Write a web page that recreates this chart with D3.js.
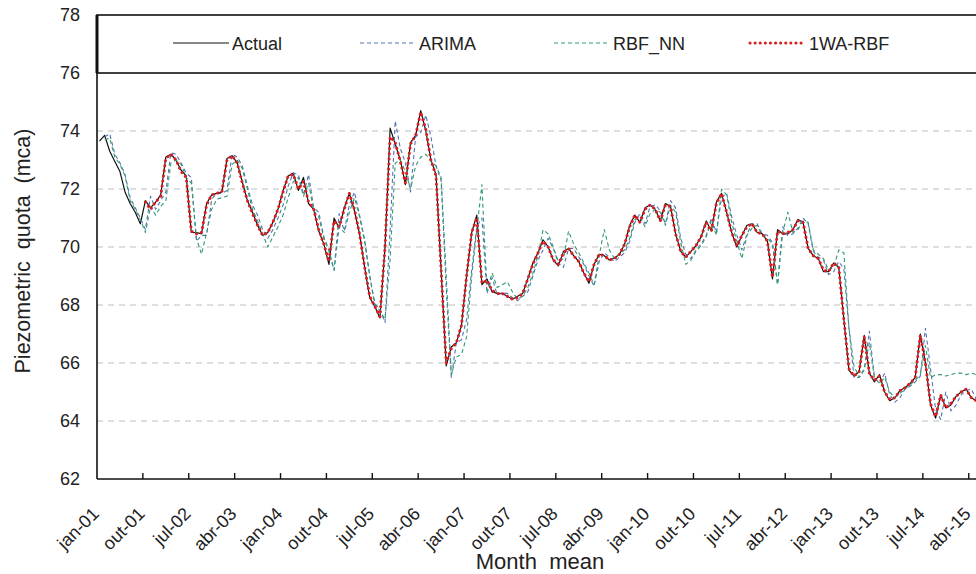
<!DOCTYPE html>
<html>
<head>
<meta charset="utf-8">
<script src="https://cdn.jsdelivr.net/npm/d3@7"></script>
<style>
  html, body { margin: 0; padding: 0; background: #fff; }
  svg { display: block; font-family: "Liberation Sans", Arial, sans-serif; }
</style>
</head>
<body>
<svg id="chart" width="976" height="574"></svg>
<script>
'use strict';

// Monthly mean piezometric quota (mca), jan-01 onwards
const actual = [
  73.65, 73.85, 73.3, 72.95, 72.6, 71.9, 71.5, 71.2, 70.8, 71.6,
  71.35, 71.55, 71.8, 73.1, 73.2, 73.0, 72.65, 72.45, 70.5, 70.5,
  70.45, 71.5, 71.8, 71.85, 71.9, 73.05, 73.15, 72.9, 72.25, 71.6,
  71.2, 70.75, 70.4, 70.5, 70.85, 71.3, 71.95, 72.45, 72.55, 71.95,
  72.4, 71.5, 71.3, 70.55, 70.1, 69.4, 71.0, 70.65, 71.35, 71.85,
  71.25, 70.45, 69.3, 68.25, 67.95, 67.55, 70.0, 74.1, 73.55, 73.0,
  72.15, 73.6, 73.85, 74.7, 74.0, 73.0, 72.5, 69.2, 65.9, 66.55,
  66.7, 67.3, 69.0, 70.5, 71.1, 68.7, 68.9, 68.45, 68.4, 68.4,
  68.3, 68.2, 68.3, 68.4, 68.9, 69.45, 69.8, 70.25, 70.0, 69.55,
  69.35, 69.85, 69.95, 69.7, 69.5, 69.1, 68.75, 69.4, 69.75, 69.7,
  69.55, 69.62, 69.75, 70.1, 70.75, 71.1, 70.85, 71.35, 71.45, 71.3,
  70.9, 71.5, 71.4, 70.45, 69.85, 69.65, 69.85, 70.05, 70.35, 70.9,
  70.55, 71.55, 71.85, 71.2, 70.5, 70.0, 70.4, 70.75, 70.8, 70.5,
  70.45, 70.2, 68.9, 70.6, 70.45, 70.45, 70.6, 70.95, 70.85, 69.95,
  69.7, 69.6, 69.15, 69.15, 69.45, 69.3, 67.5, 65.75, 65.55, 65.7,
  66.95, 65.65, 65.35, 65.6, 65.0, 64.7, 64.8, 65.05, 65.15, 65.3,
  65.5, 67.0, 66.0, 64.55, 64.1, 64.9, 64.45, 64.55, 64.85, 65.0,
  65.1, 64.8, 64.7
];

const arima = [
  null, 73.8, 73.9, 73.2, 72.9, 72.5, 71.7, 71.35, 71.0, 70.6,
  71.75, 71.3, 71.6, 71.9, 73.25, 73.2, 72.9, 72.55, 72.4, 70.2,
  70.4, 70.4, 71.65, 71.85, 71.85, 71.95, 73.2, 73.1, 72.8, 72.1,
  71.45, 71.1, 70.6, 70.3, 70.6, 71.0, 71.45, 72.1, 72.55, 72.5,
  71.8, 72.5, 71.35, 71.2, 70.35, 69.9, 69.2, 71.15, 70.55, 71.45,
  71.9, 71.1, 70.25, 69.0, 68.05, 67.85, 67.4, 70.6, 74.35, 73.4,
  72.9, 71.9, 73.8, 73.95, 74.55, 73.8, 72.8, 72.3, 68.6, 65.5,
  66.7, 66.8, 67.5, 69.2, 70.7, 71.0, 68.4, 68.95, 68.35, 68.4,
  68.4, 68.25, 68.15, 68.3, 68.45, 69.0, 69.55, 69.9, 70.3, 69.95,
  69.45, 69.3, 69.95, 69.95, 69.65, 69.4, 69.0, 68.65, 69.5, 69.8,
  69.65, 69.5, 69.65, 69.8, 70.2, 70.85, 71.15, 70.8, 71.4, 71.45,
  71.25, 70.8, 71.6, 71.35, 70.3, 69.75, 69.6, 69.9, 70.1, 70.4,
  71.0, 70.5, 71.7, 71.85, 71.05, 70.4, 69.9, 70.45, 70.8, 70.8,
  70.45, 70.4, 70.15, 68.7, 70.7, 70.4, 70.45, 70.65, 71.0, 70.8,
  69.85, 69.65, 69.55, 69.05, 69.15, 69.5, 69.25, 67.2, 65.5, 65.5,
  65.75, 67.1, 65.5, 65.3, 65.65, 64.9, 64.65, 64.8, 65.1, 65.2,
  65.35, 65.55, 67.2, 65.8, 64.4, 64.05, 65.0, 64.35, 64.55, 64.9,
  65.05, 65.1, 64.75
];

const rbfNN = [
  null, 73.7, 73.75, 73.1, 72.85, 72.45, 71.6, 71.3, 70.95, 70.5,
  71.4, 71.1, 71.4, 71.6, 72.9, 73.0, 72.85, 72.4, 72.2, 70.3,
  69.75, 70.5, 71.3, 71.65, 71.7, 71.75, 72.85, 73.0, 72.7, 72.0,
  71.3, 70.9, 70.45, 70.0, 70.35, 70.7, 71.1, 71.7, 72.25, 72.4,
  71.75, 72.2, 71.25, 71.05, 70.3, 69.85, 69.2, 70.7, 70.5, 71.2,
  71.7, 71.05, 70.2, 69.0, 68.0, 67.8, 67.5, 69.6, 72.9, 73.0,
  72.6, 72.0, 72.8, 73.1, 73.2, 72.95, 72.8, 72.4, 69.0, 65.6,
  66.2, 66.3, 66.9, 69.0, 70.6, 72.15, 68.5, 69.1, 68.6, 68.7,
  68.8, 68.45, 68.2, 68.3, 68.6, 69.1, 69.7, 70.6, 70.45, 70.0,
  69.5, 69.6, 70.55, 70.1, 69.8, 69.45, 69.1, 68.7, 69.7, 70.6,
  69.9, 69.6, 69.75, 69.9, 70.3, 70.95, 71.05, 70.7, 71.15, 71.3,
  71.2, 70.75, 71.45, 71.2, 70.15, 69.4, 69.55, 69.85, 70.05, 70.35,
  70.9, 70.4, 72.0, 71.8, 70.85, 70.2, 69.6, 70.4, 70.65, 70.75,
  70.4, 70.3, 70.1, 68.7, 70.5, 71.2, 70.5, 70.6, 70.9, 70.85,
  69.9, 69.75, 69.6, 69.2, 69.3, 69.9, 69.8, 67.2, 65.9, 65.5,
  65.8, 66.7, 65.5, 65.3, 65.5, 65.0, 64.8, 64.95, 65.1, 65.25,
  65.4, 65.6, 66.6, 65.5, 65.6, 65.6, 65.55, 65.6, 65.65, 65.65,
  65.6, 65.65, 65.6
];

const wa1RBF = [
  null, null, null, null, null, null, null, null, null, 71.55,
  71.3, 71.55, 71.75, 73.05, 73.2, 73.0, 72.6, 72.4, 70.55, 70.45,
  70.5, 71.45, 71.8, 71.85, 71.9, 73.0, 73.15, 72.9, 72.2, 71.6,
  71.15, 70.75, 70.4, 70.5, 70.85, 71.3, 71.9, 72.45, 72.5, 72.0,
  72.25, 71.55, 71.3, 70.6, 70.1, 69.5, 70.9, 70.7, 71.3, 71.85,
  71.3, 70.45, 69.3, 68.3, 67.95, 67.6, 70.0, 73.8, 73.6, 72.95,
  72.2, 73.55, 73.85, 74.65, 74.05, 73.0, 72.45, 69.2, 66.0, 66.5,
  66.7, 67.3, 69.0, 70.5, 71.0, 68.75, 68.85, 68.5, 68.4, 68.4,
  68.3, 68.2, 68.25, 68.4, 68.9, 69.4, 69.8, 70.2, 70.0, 69.55,
  69.4, 69.8, 69.95, 69.7, 69.5, 69.1, 68.8, 69.4, 69.75, 69.7,
  69.55, 69.6, 69.75, 70.1, 70.7, 71.1, 70.85, 71.3, 71.45, 71.3,
  70.9, 71.45, 71.4, 70.45, 69.85, 69.65, 69.85, 70.05, 70.35, 70.85,
  70.55, 71.5, 71.85, 71.2, 70.5, 70.05, 70.4, 70.7, 70.8, 70.5,
  70.45, 70.2, 68.95, 70.55, 70.45, 70.5, 70.6, 70.9, 70.85, 69.95,
  69.7, 69.6, 69.2, 69.15, 69.45, 69.3, 67.5, 65.8, 65.55, 65.7,
  66.9, 65.65, 65.4, 65.55, 65.0, 64.75, 64.8, 65.05, 65.15, 65.3,
  65.5, 66.95, 66.0, 64.6, 64.15, 64.9, 64.45, 64.6, 64.85, 65.0,
  65.1, 64.8, 64.7
];

const tickLabels = [
  'jan-01', 'out-01', 'jul-02', 'abr-03', 'jan-04', 'out-04', 'jul-05',
  'abr-06', 'jan-07', 'out-07', 'jul-08', 'abr-09', 'jan-10', 'out-10',
  'jul-11', 'abr-12', 'jan-13', 'out-13', 'jul-14', 'abr-15'
];
const yTicks = [62, 64, 66, 68, 70, 72, 74, 76, 78];
const gridValues = [64, 66, 68, 70, 72, 74];

const series = [
  { name: 'Actual',  values: actual, color: '#111',    width: 1.2, dash: null },
  { name: 'ARIMA',   values: arima,  color: '#4f74b3', width: 1.1, dash: '4,3' },
  { name: 'RBF_NN',  values: rbfNN,  color: '#2e9a72', width: 1.1, dash: '4,3' },
  { name: '1WA-RBF', values: wa1RBF, color: '#d81e1e', width: 3,   dash: '0.1,5', cap: 'round' },
];

// ---- layout ----
const W = 976, H = 574;
const plotLeft = 97, plotTop = 15, plotBottom = 479;
const pxPerMonth = 5.098;
const TICK_STEP = 9;        // months between labelled ticks
const N_MONTHS = 180;       // plot area runs past the right edge of the picture

const svg = d3.select('#chart');

const x = d3.scaleLinear().domain([0, N_MONTHS]).range([plotLeft, plotLeft + N_MONTHS * pxPerMonth]);
const y = d3.scaleLinear().domain([62, 78]).range([plotBottom, plotTop]);

// horizontal dashed gridlines
svg.append('g').selectAll('line')
    .data(gridValues)
    .join('line')
    .attr('x1', plotLeft).attr('x2', W)
    .attr('y1', d => y(d)).attr('y2', d => y(d))
    .attr('stroke', '#bdbdbd').attr('stroke-width', 1).attr('stroke-dasharray', '6,5');

// clip the series to the plot area
svg.append('defs').append('clipPath').attr('id', 'plotClip')
    .append('rect').attr('x', plotLeft).attr('y', y(76))
    .attr('width', W - plotLeft).attr('height', plotBottom - y(76));

// points sit in the middle of each month
const line = d3.line()
    .defined(d => d != null)
    .x((d, i) => x(i + 0.5))
    .y(d => y(d));

svg.append('g').attr('clip-path', 'url(#plotClip)')
    .selectAll('path')
    .data(series)
    .join('path')
    .attr('d', s => line(s.values))
    .attr('fill', 'none')
    .attr('stroke', s => s.color)
    .attr('stroke-width', s => s.width)
    .attr('stroke-dasharray', s => s.dash)
    .attr('stroke-linecap', s => s.cap || 'butt')
    .attr('stroke-linejoin', 'round');

// legend box (occupies the 76–78 band)
svg.append('rect')
    .attr('x', plotLeft).attr('y', y(78)).attr('width', W - plotLeft + 10).attr('height', y(76) - y(78))
    .attr('fill', 'none').attr('stroke', '#111').attr('stroke-width', 1.6);

const legendX = [173, 360, 554, 750];
const legendY = 43;
const lg = svg.append('g').selectAll('g')
    .data(series)
    .join('g')
    .attr('transform', (d, i) => `translate(${legendX[i]},${legendY})`);
lg.append('line')
    .attr('x1', 0).attr('x2', 56).attr('y1', 0).attr('y2', 0)
    .attr('stroke', d => d.color)
    .attr('stroke-width', d => d.width)
    .attr('stroke-dasharray', d => d.dash)
    .attr('stroke-linecap', d => d.cap || 'butt');
lg.append('text')
    .attr('x', 59).attr('y', 6.5)
    .attr('font-size', 18).attr('fill', '#222')
    .text(d => d.name);

// axes lines
svg.append('line')
    .attr('x1', plotLeft).attr('x2', W).attr('y1', plotBottom).attr('y2', plotBottom)
    .attr('stroke', '#111').attr('stroke-width', 1.6);
svg.append('line')
    .attr('x1', plotLeft).attr('x2', plotLeft).attr('y1', plotTop).attr('y2', plotBottom)
    .attr('stroke', '#111').attr('stroke-width', 1.6);
svg.append('line')
    .attr('x1', plotLeft).attr('x2', plotLeft).attr('y1', y(78)).attr('y2', y(76))
    .attr('stroke', '#111').attr('stroke-width', 3);

// y tick labels
svg.append('g').selectAll('text')
    .data(yTicks)
    .join('text')
    .attr('x', 80).attr('y', d => y(d)).attr('dy', '0.36em')
    .attr('text-anchor', 'end')
    .attr('font-size', 18).attr('fill', '#222')
    .text(d => d);

// x ticks and rotated labels
const xt = svg.append('g').selectAll('g')
    .data(tickLabels)
    .join('g');
xt.filter((d, i) => i > 0).append('line')
    .attr('x1', (d, i) => x((i + 1) * TICK_STEP)).attr('x2', (d, i) => x((i + 1) * TICK_STEP))
    .attr('y1', plotBottom).attr('y2', plotBottom - 6)
    .attr('stroke', '#111').attr('stroke-width', 1.4);
xt.append('text')
    .attr('transform', (d, i) => `translate(${x(i * TICK_STEP) - 6},${plotBottom + 27}) rotate(-45)`)
    .attr('dy', '0.71em')
    .attr('text-anchor', 'end')
    .attr('font-size', 18).attr('fill', '#222')
    .text(d => d);

// axis titles
svg.append('text')
    .attr('x', 540).attr('y', 569)
    .attr('text-anchor', 'middle')
    .attr('font-size', 22).attr('fill', '#222')
    .style('white-space', 'pre')
    .text('Month  mean');

svg.append('text')
    .attr('transform', 'translate(30,251) rotate(-90)')
    .attr('text-anchor', 'middle')
    .attr('font-size', 21.5).attr('fill', '#222')
    .style('white-space', 'pre')
    .text('Piezometric  quota  (mca)');
</script>
</body>
</html>
